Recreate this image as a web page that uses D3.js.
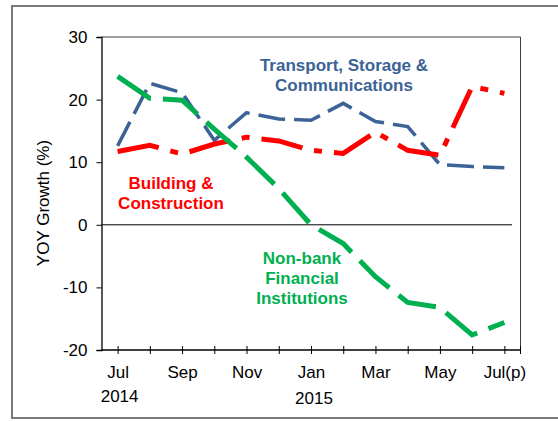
<!DOCTYPE html>
<html>
<head>
<meta charset="utf-8">
<script src="https://cdn.jsdelivr.net/npm/d3@7"></script>
<style>
  body { margin: 0; background: #fff; }
  text { font-family: "Liberation Sans", Arial, sans-serif; }
</style>
</head>
<body>
<svg width="558" height="421"></svg>
<script>
// months Jul 2014 .. Jul 2015
const months = ["Jul14","Aug14","Sep14","Oct14","Nov14","Dec14","Jan15","Feb15","Mar15","Apr15","May15","Jun15","Jul15"];
const tickLabels = {"Jul14": "Jul", "Sep14": "Sep", "Nov14": "Nov", "Jan15": "Jan", "Mar15": "Mar", "May15": "May", "Jul15": "Jul(p)"};
const yTicks = [-20, -10, 0, 10, 20, 30];

const transport = [12.6, 22.6, 21.1, 13.5, 17.9, 16.9, 16.7, 19.4, 16.5, 15.7, 9.6, 9.3, 9.1];
const building  = [11.7, 12.7, 11.3, 12.9, 14.0, 13.4, 11.9, 11.4, 14.8, 11.9, 11.1, 22.1, 21.0];
const nonbank   = [23.7, 20.2, 19.9, 15.3, 10.8, 5.8, 0.0, -3.0, -8.3, -12.4, -13.2, -17.6, -15.6];

var svg = d3.select("svg");
var plotL = 101.5, plotR = 520.5, plotT = 37, plotB = 350;

var x = d3.scalePoint().domain(months).range([plotL, plotR]).padding(0.5);
var y = d3.scaleLinear().domain([-20, 30]).range([plotB, plotT]);

// outer frame
svg.append("rect")
    .attr("x", 12).attr("y", 6).attr("width", 560).attr("height", 412)
    .attr("fill", "none").attr("stroke", "#7a7a7a").attr("stroke-width", 2);

// plot box top/right
svg.append("path")
    .attr("d", `M${plotL},${plotT}H${plotR}V${plotB}`)
    .attr("fill", "none").attr("stroke", "#404040").attr("stroke-width", 1);

// zero line
svg.append("line")
    .attr("x1", plotL).attr("x2", 512)
    .attr("y1", y(0)).attr("y2", y(0))
    .attr("stroke", "#000").attr("stroke-width", 1);

// y axis
var yAxis = svg.append("g")
    .attr("transform", `translate(${plotL},0)`)
    .call(d3.axisLeft(y).tickValues(yTicks).tickSize(5).tickPadding(9).tickFormat(d => String(d)));
yAxis.select(".domain").attr("stroke", "#000").attr("stroke-width", 1.3);
yAxis.selectAll("text").attr("font-size", 17).attr("fill", "#000")
    .style("font-family", "Liberation Sans, Arial, sans-serif");

// x axis
var xAxis = svg.append("g")
    .attr("transform", `translate(0,${plotB})`)
    .call(d3.axisBottom(x).tickSize(4).tickFormat(d => tickLabels[d] || ""));
xAxis.select(".domain").attr("d", `M${plotL},0H${plotR}`).attr("stroke", "#000").attr("stroke-width", 1.3);
xAxis.selectAll(".tick line").attr("y1", -4);
xAxis.append("line").attr("x1", plotR).attr("x2", plotR).attr("y1", -4).attr("y2", 4).attr("stroke", "#000");
xAxis.selectAll("text").attr("font-size", 17).attr("fill", "#000")
    .attr("y", 28).attr("dy", 0)
    .style("font-family", "Liberation Sans, Arial, sans-serif");

svg.append("text").attr("x", x("Jul14") + 2).attr("y", 402)
    .attr("text-anchor", "middle").attr("font-size", 17).text("2014");
svg.append("text").attr("x", x("Jan15") + 3).attr("y", 404)
    .attr("text-anchor", "middle").attr("font-size", 17).text("2015");

// y label
svg.append("text")
    .attr("transform", "translate(49,203) rotate(-90)")
    .attr("text-anchor", "middle").attr("font-size", 17)
    .text("YOY Growth (%)");

var line = d3.line().x((d, i) => x(months[i])).y(d => y(d));

svg.append("path").datum(transport).attr("d", line)
    .attr("fill", "none").attr("stroke", "#3B6396").attr("stroke-width", 3.5)
    .attr("stroke-dasharray", "27,9");
svg.append("path").datum(building).attr("d", line)
    .attr("fill", "none").attr("stroke", "#FF0000").attr("stroke-width", 5)
    .attr("stroke-dasharray", "42,12,8,12");
svg.append("path").datum(nonbank).attr("d", line)
    .attr("fill", "none").attr("stroke", "#00B050").attr("stroke-width", 5)
    .attr("stroke-dasharray", "40,12");

// series labels
function label(lines, cx, cy, color) {
    var t = svg.append("text").attr("text-anchor", "middle")
        .attr("font-size", 17).attr("font-weight", "bold").attr("fill", color);
    lines.forEach((s, i) => {
        t.append("tspan").attr("x", cx).attr("y", cy + i * 20).text(s);
    });
}
label(["Transport, Storage &", "Communications"], 344, 71, "#3B6396");
label(["Building &", "Construction"], 171, 189, "#FF0000");
label(["Non-bank", "Financial", "Institutions"], 302, 264, "#00B050");
</script>
</body>
</html>
